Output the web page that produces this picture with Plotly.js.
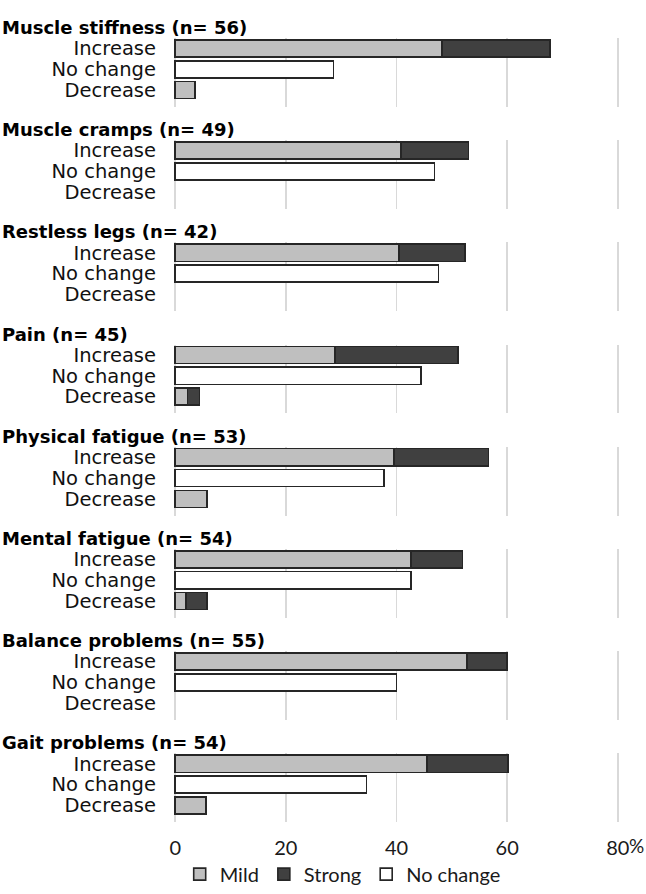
<!DOCTYPE html>
<html>
<head>
<meta charset="utf-8">
<script src="https://cdn.plot.ly/plotly-3.0.1.min.js"></script>
<style>html,body{margin:0;padding:0;background:#fff;}#chart{width:646px;height:894px;}</style>
</head>
<body>
<div id="chart"></div>
<script>
// ---- data (percent of respondents) ----
const groups = ["Muscle stiffness", "Muscle cramps", "Restless legs", "Pain",
                "Physical fatigue", "Mental fatigue", "Balance problems", "Gait problems"];
const nValues = [56, 49, 42, 45, 53, 54, 55, 54];
const rowLabels = ["Increase", "No change", "Decrease"];
const increaseMild   = [48.2, 40.8, 40.5, 28.9, 39.6, 42.6, 52.7, 45.5];
const increaseStrong = [19.6, 12.2, 11.9, 22.2, 17.0, 9.3, 7.3, 14.6];
const noChange       = [28.6, 46.9, 47.6, 44.4, 37.7, 42.6, 40.0, 34.6];
const decreaseMild   = [3.6, 0, 0, 2.2, 5.7, 1.9, 0, 5.6];
const decreaseStrong = [0, 0, 0, 2.2, 0, 3.8, 0, 0];
const tickValues = [0, 20, 40, 60, 80];
const tickLabels = ["0", "20", "40", "60", "80"];
const legendNames = ["Mild", "Strong", "No change"];

// ---- layout constants ----
const W = 646, H = 894;
const ML = 173, MR = 26;
const rowH = 21, groupStep = 103, firstCenter = 48.8;
const colors = {mild: "#bfbfbf", strong: "#404040", none: "#ffffff", line: "#262626"};
const nz = v => (v ? v : null);

const traces = [];
const layout = {
  width: W, height: H,
  margin: {l: ML, r: MR, t: 0, b: 0},
  paper_bgcolor: "#fff", plot_bgcolor: "rgba(0,0,0,0)",
  barmode: "stack",
  bargap: 0.18,
  showlegend: true,
  legend: {
    orientation: "h", x: 0.015, xanchor: "left", y: 1 - 881 / H, yanchor: "middle",
    font: {family: "Lato, 'Open Sans', sans-serif", size: 20, color: "#1a1a1a"},
    traceorder: "normal", itemclick: false, itemdoubleclick: false
  },
  annotations: [],
  hovermode: false
};

groups.forEach((g, k) => {
  const c = firstCenter + groupStep * k;
  const xa = k === 0 ? "x" : "x" + (k + 1);
  const ya = k === 0 ? "y" : "y" + (k + 1);
  const xKey = k === 0 ? "xaxis" : "xaxis" + (k + 1);
  const yKey = k === 0 ? "yaxis" : "yaxis" + (k + 1);
  const last = k === groups.length - 1;

  layout[yKey] = {
    domain: [1 - (c + 2.3 * rowH + 10.5) / H, 1 - (c - 0.5 * rowH) / H],
    range: [2.8, -0.5],
    anchor: xa,
    tickmode: "array", tickvals: [0, 1, 2], ticktext: rowLabels,
    tickfont: {family: "'DejaVu Sans', sans-serif", size: 19.5, color: "#111"},
    showgrid: false, zeroline: false, showline: false, ticks: "",
    ticklabelstandoff: 16, fixedrange: true
  };
  layout[xKey] = {
    domain: [0, 1], range: [-0.4, 80.4], anchor: ya,
    tickmode: "array", tickvals: tickValues, ticktext: tickLabels,
    showticklabels: last,
    tickfont: {family: "Lato, 'Open Sans', sans-serif", size: 20, color: "#1a1a1a"},
    showgrid: true, gridcolor: "#d9d9d9", gridwidth: 1.8,
    zeroline: false, showline: false, ticks: "", ticklabelstandoff: 12, fixedrange: true
  };

  const common = {type: "bar", orientation: "h", xaxis: xa, yaxis: ya, y: [0, 1, 2],
                  hoverinfo: "skip", cliponaxis: false};
  traces.push(Object.assign({}, common, {
    name: legendNames[0], legendgroup: "mild", showlegend: k === 0,
    x: [nz(increaseMild[k]), null, nz(decreaseMild[k])],
    marker: {color: colors.mild, line: {color: colors.line, width: 1.6}}
  }));
  traces.push(Object.assign({}, common, {
    name: legendNames[1], legendgroup: "strong", showlegend: k === 0,
    x: [nz(increaseStrong[k]), null, nz(decreaseStrong[k])],
    marker: {color: colors.strong, line: {color: colors.line, width: 1.6}}
  }));
  traces.push(Object.assign({}, common, {
    name: legendNames[2], legendgroup: "none", showlegend: k === 0,
    x: [null, nz(noChange[k]), null],
    marker: {color: colors.none, line: {color: colors.line, width: 1.6}}
  }));

  layout.annotations.push({
    text: g + " (n= " + nValues[k] + ")",
    xref: "paper", yref: "paper",
    x: -ML / (W - ML - MR), xanchor: "left",
    y: 1 - (c - rowH) / H, yanchor: "middle",
    showarrow: false,
    font: {family: "'DejaVu Sans', sans-serif", size: 18, weight: "bold", color: "#000"}
  });
});

// percent sign after the last tick label
layout.annotations.push({
  text: "%", xref: "x" + groups.length, yref: "paper",
  x: 80, xanchor: "left", xshift: 9,
  y: 1 - 852 / H, yanchor: "middle", showarrow: false,
  font: {family: "Lato, 'Open Sans', sans-serif", size: 19, color: "#1a1a1a"}
});

Plotly.newPlot("chart", traces, layout, {displayModeBar: false, staticPlot: true});
</script>
</body>
</html>
